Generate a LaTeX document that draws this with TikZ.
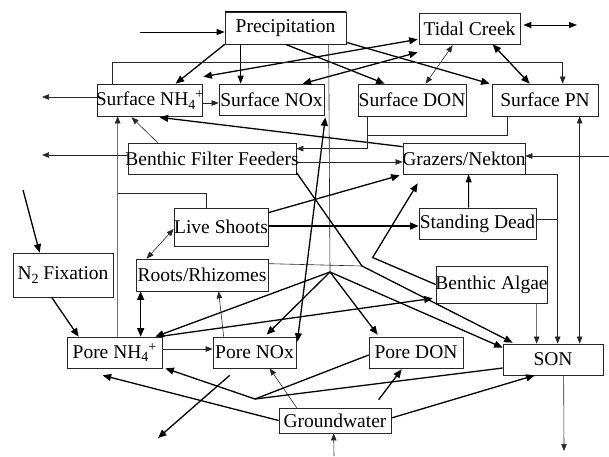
\documentclass[tikz,border=0pt]{standalone}
\usepackage{fontspec}
\setmainfont{Liberation Serif}
\usetikzlibrary{arrows.meta,calc}
\newcommand\fsz{\fontsize{19.5}{21}\selectfont}
\newcommand\smallidx[1]{{\fontsize{14}{14}\selectfont #1}}
\newcommand\nhfour{NH\raisebox{-0.35ex}{\smallidx{4}}\raisebox{0.8ex}{\smallidx{+}}}
\begin{document}
\begin{tikzpicture}[x=1pt,y=-1pt,
  box/.style={draw=black!85, line width=0.7pt, inner ysep=0pt, inner xsep=-4pt, font=\fsz, align=center},
  thk/.style={line width=1.3pt, -{Triangle[length=8.5pt,width=7pt]}},
  thkd/.style={line width=1.3pt, {Triangle[length=8.5pt,width=7pt]}-{Triangle[length=8.5pt,width=7pt]}},
  thkl/.style={line width=1.3pt},
  thn/.style={line width=0.6pt, draw=black!85, -{Triangle[length=7pt,width=5.5pt]}},
  thnd/.style={line width=0.6pt, draw=black!85, {Triangle[length=7pt,width=5.5pt]}-{Triangle[length=7pt,width=5.5pt]}},
  thnl/.style={line width=0.6pt, draw=black!85},
  med/.style={line width=0.9pt, -{Triangle[length=8pt,width=6pt]}},
  medd/.style={line width=0.9pt, {Triangle[length=8pt,width=6pt]}-{Triangle[length=8pt,width=6pt]}}
]
\useasboundingbox (0,0) rectangle (609,456);

% nodes
\node[box, minimum width=121, minimum height=32] (prec) at (285.5,28) {Precipitation};
\node[box, minimum width=101, minimum height=31] (tidal) at (469.5,28.5) {Tidal Creek};
\node[box, minimum width=105, minimum height=32] (snh) at (149.5,100) {Surface \nhfour};
\node[box, minimum width=105, minimum height=31] (snox) at (271.5,99.5) {Surface NOx};
\node[box, minimum width=108, minimum height=32] (sdon) at (412,100) {Surface DON};
\node[box, minimum width=106, minimum height=32] (spn) at (545,100) {Surface PN};
\node[box, minimum width=168, minimum height=31] (bff) at (212,158.5) {Benthic Filter Feeders};
\node[box, minimum width=122, minimum height=31] (graz) at (464,158.5) {Grazers/Nekton};
\node[box, minimum width=94, minimum height=38] (live) at (221,227) {Live Shoots};
\node[box, minimum width=117, minimum height=31] (dead) at (477.5,223.5) {Standing Dead};
\node[box, minimum width=132, minimum height=32] (roots) at (202,275) {Roots/Rhizomes};
\node[box, minimum width=100, minimum height=44] (n2) at (63,275) {N\raisebox{-0.4ex}{\smallidx{2}} Fixation};
\node[box, minimum width=111, minimum height=37] (alg) at (491.5,284.5) {Benthic Algae};
\node[box, minimum width=95, minimum height=31] (pnh) at (114.5,352.5) {Pore \nhfour};
\node[box, minimum width=83, minimum height=31] (pnox) at (254.5,352.5) {Pore NOx};
\node[box, minimum width=94, minimum height=31] (pdon) at (416,352.5) {Pore DON};
\node[box, minimum width=100, minimum height=31] (son) at (553,359.5) {SON};
\node[box, minimum width=112, minimum height=25] (gw) at (335,420.5) {Groundwater};
\draw[line width=1.6pt] (prec.north west) -- (prec.north east);

% free ends and junctions
\coordinate (pin) at (140,32);
\coordinate (tr) at (577,25);
\coordinate (hub) at (330,272);
\coordinate (kink) at (362,266);
\coordinate (j1) at (118,193);
\coordinate (j2) at (368,135);
\coordinate (gr) at (609,156);
\coordinate (n2in) at (23,190);
\coordinate (pout) at (158,438);
\coordinate (m) at (255,399);
\coordinate (gin) at (334,456);
\coordinate (sout) at (564,451);
\coordinate (snhout) at (42,97);
\coordinate (bffout) at (42,155);

% top
\draw[med] (pin) -- ($(prec.west)+(0,4)$);
\draw[thk] (prec.south west) -- ($(snh.north west)+(79,0)$);
\draw[med] ($(prec.south west)+(16,0)$) -- ($(snox.north west)+(22,0)$);
\draw[thk] (prec.south) -- ($(sdon.north west)+(27,0)$);
\draw[thk] ($(prec.south east)+(0,-2)$) -- ($(spn.north west)+(-2,0)$);
\draw[thkd] ($(snh.north east)+(1,-7)$) -- ($(tidal.south west)+(-1,-5)$);
\draw[thkd] ($(snox.north west)+(84,0)$) -- ($(tidal.south west)+(-1,8)$);
\draw[thnd] ($(tidal.south west)+(34,1)$) -- ($(sdon.north west)+(68,0)$);
\draw[thkd] ($(tidal.south west)+(74,0)$) -- ($(spn.north west)+(38,0)$);
\draw[medd] ($(tidal.east)+(3,-3.5)$) -- (tr);
\draw[thn] ($(snh.north west)+(16,0)$) |- ($(spn.north west)+(71,-21)$) -- ($(spn.north west)+(71,0)$);
\draw[thn] ($(snh.east)+(0,3)$) -- ($(snox.west)+(0,3.5)$);
\draw[thn] ($(snh.west)+(0,-3)$) -- (snhout);

% precipitation hub
\draw[thnl] ($(prec.south west)+(104,0)$) -- (hub);
\draw[thk] (hub) -- ($(pnh.north east)+(-7,0)$);
\draw[thk] (hub) -- ($(pnox.north west)+(54,-2)$);
\draw[thk] (hub) -- ($(pdon.north west)+(9,-2)$);
\draw[thk] (hub) -- ($(son.north west)+(0,4)$);

% filter feeders / roots to SON
\draw[thk] ($(bff.south east)+(0,-2)$) -- (kink) -- ($(son.north west)+(10,-1)$);
\draw[thnl] ($(roots.north east)+(0,5)$) -- (kink);

% middle
\draw[thk] ($(pnh.north east)+(-4,0)$) -- ($(alg.south west)+(-3,-5)$);
\draw[thkd] ($(snox.south east)+(1,2)$) -- ($(pnox.north east)+(1,5)$);
\draw[thk] ($(graz.north west)+(0,4)$) -- ($(snh.south west)+(63,1)$);
\draw[thn] ($(bff.north west)+(30,0)$) -- ($(snh.south west)+(35,1)$);
\draw[thn] ($(pnh.north west)+(51,0)$) -- ($(snh.south west)+(21,0)$);
\draw[thnl] ($(live.north west)+(33,0)$) |- (j1);
\draw[thn] ($(sdon.south west)+(10,0)$) |- ($(bff.north east)+(0,6)$);
\draw[thnl] ($(spn.south west)+(16,0)$) |- (j2);
\draw[thn] ($(bff.east)+(0,3.5)$) -- ($(graz.west)+(0,3.5)$);
\draw[thn] (gr) -- ($(graz.east)+(0,-2.5)$);
\draw[thn] ($(bff.west)+(0,-3.5)$) -- (bffout);
\draw[thk] ($(live.north east)+(0,5)$) -- ($(graz.south west)+(-3,1)$);
\draw[thk] ($(live.east)+(0,-1)$) -- ($(dead.west)+(0,2.5)$);
\draw[thnd] ($(live.west)+(0,2)$) -- ($(roots.north west)+(11,0)$);
\draw[med] ($(dead.north west)+(50,0)$) -- ($(graz.south west)+(66,0)$);
\draw[thn] (graz.south east) -| ($(son.north west)+(55,0)$);
\draw[thnl] ($(dead.east)+(0,-4.5)$) -- ($(dead.east)+(22,-4.5)$);
\draw[thn] ($(alg.south west)+(101,0)$) -- ($(son.north west)+(34,0)$);
\draw[thnd] ($(spn.south west)+(88,0)$) -- ($(son.north west)+(77,0)$);
\draw[thk] (alg.west) -- ($(alg.west)+(-63,-27)$) -- ($(graz.south west)+(15,9)$);

% left
\draw[thk] (n2in) -- ($(n2.north west)+(27,0)$);
\draw[thk] ($(n2.south west)+(39,0)$) -- ($(pnh.north west)+(12,0)$);
\draw[thkd] ($(roots.south west)+(5,0)$) -- ($(pnh.north west)+(74,0)$);
\draw[thn] ($(pnox.north west)+(11,0)$) -- ($(roots.south west)+(83,0)$);
\draw[thn] ($(pnh.east)+(0,-3.5)$) -- ($(pnox.west)+(0,-3.5)$);

% bottom
\draw[thk] ($(pnox.south west)+(17,7)$) -- (pout);
\draw[thk] (gw.west) -- ($(pnh.south west)+(36,7)$);
\draw[thn] ($(gw.north west)+(18,0)$) -- ($(pnox.south west)+(57,0)$);
\draw[thk] ($(gw.north west)+(100,-8)$) -- ($(pdon.south west)+(33,1)$);
\draw[thk] ($(gw.east)+(0,-2.5)$) -- ($(son.south west)+(32,0)$);
\draw[thk] ($(pdon.west)+(0,2.5)$) -- (m) -- ($(pnh.south east)+(3,0)$);
\draw[thkl] ($(son.west)+(0,8.5)$) -- (m);
\draw[thn] (gin) -- ($(gw.south west)+(55,0)$);
\draw[thn] ($(son.south west)+(61,0)$) -- (sout);
\end{tikzpicture}
\end{document}
